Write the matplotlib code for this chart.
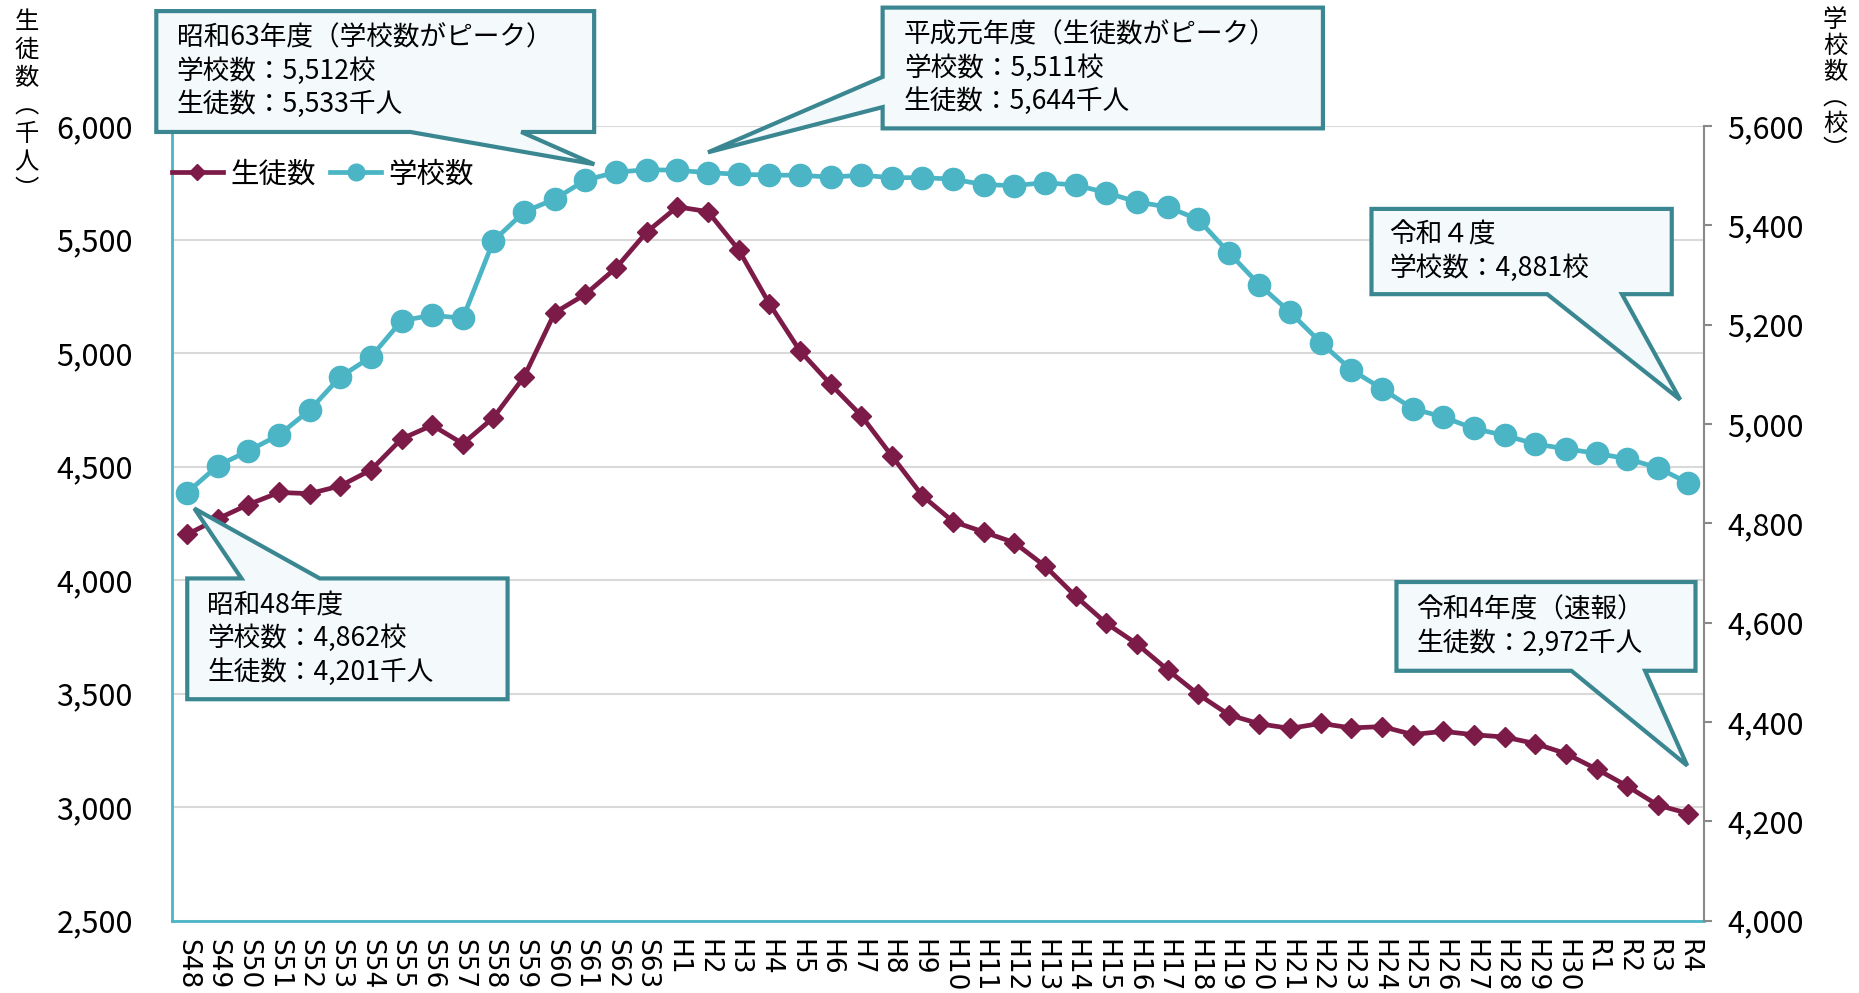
import matplotlib.pyplot as plt
from matplotlib.patches import Polygon
from matplotlib.ticker import FuncFormatter, MultipleLocator

plt.rcParams['font.family'] = ['Noto Sans CJK JP', 'DejaVu Sans']

# 年度ラベル
years = (['S%d' % i for i in range(48, 64)]
         + ['H%d' % i for i in range(1, 31)]
         + ['R%d' % i for i in range(1, 5)])

# 生徒数（千人）
students = [4201, 4270, 4333, 4386, 4381, 4415, 4485, 4622, 4682, 4601,
            4716, 4896, 5178, 5259, 5375, 5533,
            5644, 5623, 5455, 5218, 5010, 4863, 4725, 4547, 4371, 4258,
            4212, 4165, 4062, 3929, 3810, 3719, 3605, 3497, 3407, 3367,
            3347, 3369, 3349, 3355, 3320, 3334, 3319, 3309, 3280, 3236,
            3168, 3093, 3009, 2972]

# 学校数（校）
schools = [4862, 4916, 4946, 4978, 5028, 5095, 5135, 5208, 5219, 5213,
           5369, 5427, 5453, 5491, 5507, 5512,
           5511, 5506, 5503, 5501, 5501, 5497, 5501, 5496, 5496, 5493,
           5482, 5480, 5486, 5481, 5466, 5447, 5437, 5412, 5345, 5280,
           5225, 5164, 5109, 5071, 5031, 5014, 4991, 4977, 4960, 4950,
           4941, 4930, 4912, 4881]

STUDENT_COLOR = '#7D1B48'
SCHOOL_COLOR = '#4BB5C6'
BOX_EDGE = '#3A8791'
BOX_FACE = '#F4F9FC'


def callout(ax, box, side, base, tip, text, text_x):
    # box = (x0, y0, x1, y1) in axes fraction, tip in axes fraction
    x0, y0, x1, y1 = box
    a, b = base
    if side == 'bottom':
        pts = [(x0, y1), (x0, y0), (a, y0), tip, (b, y0), (x1, y0), (x1, y1)]
    elif side == 'top':
        pts = [(x0, y1), (x0, y0), (x1, y0), (x1, y1), (b, y1), tip, (a, y1)]
    else:  # left
        pts = [(x0, y1), (x0, a), tip, (x0, b), (x0, y0), (x1, y0), (x1, y1)]
    poly = Polygon(pts, closed=True, transform=ax.transAxes, clip_on=False,
                   facecolor=BOX_FACE, edgecolor=BOX_EDGE, linewidth=3.0,
                   joinstyle='miter', zorder=10)
    ax.add_patch(poly)
    ax.text(text_x, (y0 + y1) / 2, text, transform=ax.transAxes,
            ha='left', va='center', fontsize=19.2, linespacing=1.25,
            zorder=11, clip_on=False)


def to_axes(ax_from, ax_to, x, y):
    disp = ax_from.transData.transform((x, y))
    return tuple(ax_to.transAxes.inverted().transform(disp))


fig = plt.figure(figsize=(18.59, 9.93), dpi=100)
ax = fig.add_axes([0.0924, 0.0728, 0.8241, 0.8003])
ax2 = ax.twinx()

xs = list(range(len(years)))
l1, = ax.plot(xs, students, color=STUDENT_COLOR, lw=3.4, marker='D',
              ms=10.5, label='生徒数', zorder=3)
l2, = ax2.plot(xs, schools, color=SCHOOL_COLOR, lw=3.4, marker='o',
               ms=16, label='学校数', zorder=3)

ax.set_xlim(-0.5, len(years) - 0.5)
ax.set_ylim(2500, 6000)
ax2.set_ylim(4000, 5600)
ax.yaxis.set_major_locator(MultipleLocator(500))
ax2.yaxis.set_major_locator(MultipleLocator(200))
fmt = FuncFormatter(lambda v, p: f'{v:,.0f}')
ax.yaxis.set_major_formatter(fmt)
ax2.yaxis.set_major_formatter(fmt)

ax.grid(axis='y', color='#D9D9D9', lw=1.5)
ax.set_axisbelow(True)

ax.set_xticks(xs)
ax.set_xticklabels(years, rotation=-90, fontsize=19, family='DejaVu Sans')
ax.tick_params(axis='x', length=0, pad=13)
ax.tick_params(axis='y', length=0, pad=28, labelsize=22)
ax2.tick_params(axis='y', length=6, width=1.5, color='#898989', pad=11,
                labelsize=22)

for s in ['top', 'right']:
    ax.spines[s].set_visible(False)
ax.spines['left'].set_color(SCHOOL_COLOR)
ax.spines['bottom'].set_color(SCHOOL_COLOR)
ax.spines['left'].set_linewidth(2)
ax.spines['bottom'].set_linewidth(2)
ax2.spines['top'].set_visible(False)
ax2.spines['left'].set_visible(False)
ax2.spines['bottom'].set_visible(False)
ax2.spines['right'].set_color('#898989')
ax2.spines['right'].set_linewidth(1.5)

ax2.legend(handles=[l1, l2], loc='upper left', bbox_to_anchor=(0.0, 0.958),
           ncol=2, frameon=False, fontsize=20.5, handlelength=1.8,
           handletextpad=0.25, columnspacing=0.5, borderaxespad=0,
           borderpad=0, markerscale=0.75)

# 吹き出し
callout(ax2, (-0.0101, 0.9925, 0.2757, 1.1446), 'bottom', (0.1557, 0.2281),
        to_axes(ax2, ax2, 13.29, 5523),
        '昭和63年度（学校数がピーク）\n学校数：5,512校\n生徒数：5,533千人', 0.0031)
callout(ax2, (0.4640, 0.9970, 0.7514, 1.1490), 'left', (1.0618, 1.0238),
        to_axes(ax2, ax2, 17.0, 5547),
        '平成元年度（生徒数がピーク）\n学校数：5,511校\n生徒数：5,644千人', 0.4779)
callout(ax2, (0.7831, 0.7884, 0.9791, 0.8957), 'bottom', (0.8978, 0.9466),
        to_axes(ax2, ax2, 48.73, 5049),
        '令和４度\n学校数：4,881校', 0.7947)
callout(ax2, (0.7994, 0.3145, 0.9946, 0.4262), 'bottom', (0.9136, 0.9617),
        to_axes(ax, ax2, 48.96, 3183),
        '令和4年度（速報）\n生徒数：2,972千人', 0.8125)
callout(ax2, (0.0101, 0.2787, 0.2192, 0.4307), 'top', (0.0455, 0.0966),
        to_axes(ax2, ax2, 0.236, 4830),
        '昭和48年度\n学校数：4,862校\n生徒数：4,201千人', 0.0232)

# 縦書きの軸タイトル
fig.text(0.0144, 1 - 9 / 993, '生\n徒\n数\n︵\n千\n人\n︶', ha='center',
         va='top', fontsize=17.5, linespacing=1.1)
fig.text(0.9871, 1 - 7 / 993, '学\n校\n数\n︵\n校\n︶', ha='center',
         va='top', fontsize=17.5, linespacing=1.0)

fig.savefig('out.png', dpi=100)
